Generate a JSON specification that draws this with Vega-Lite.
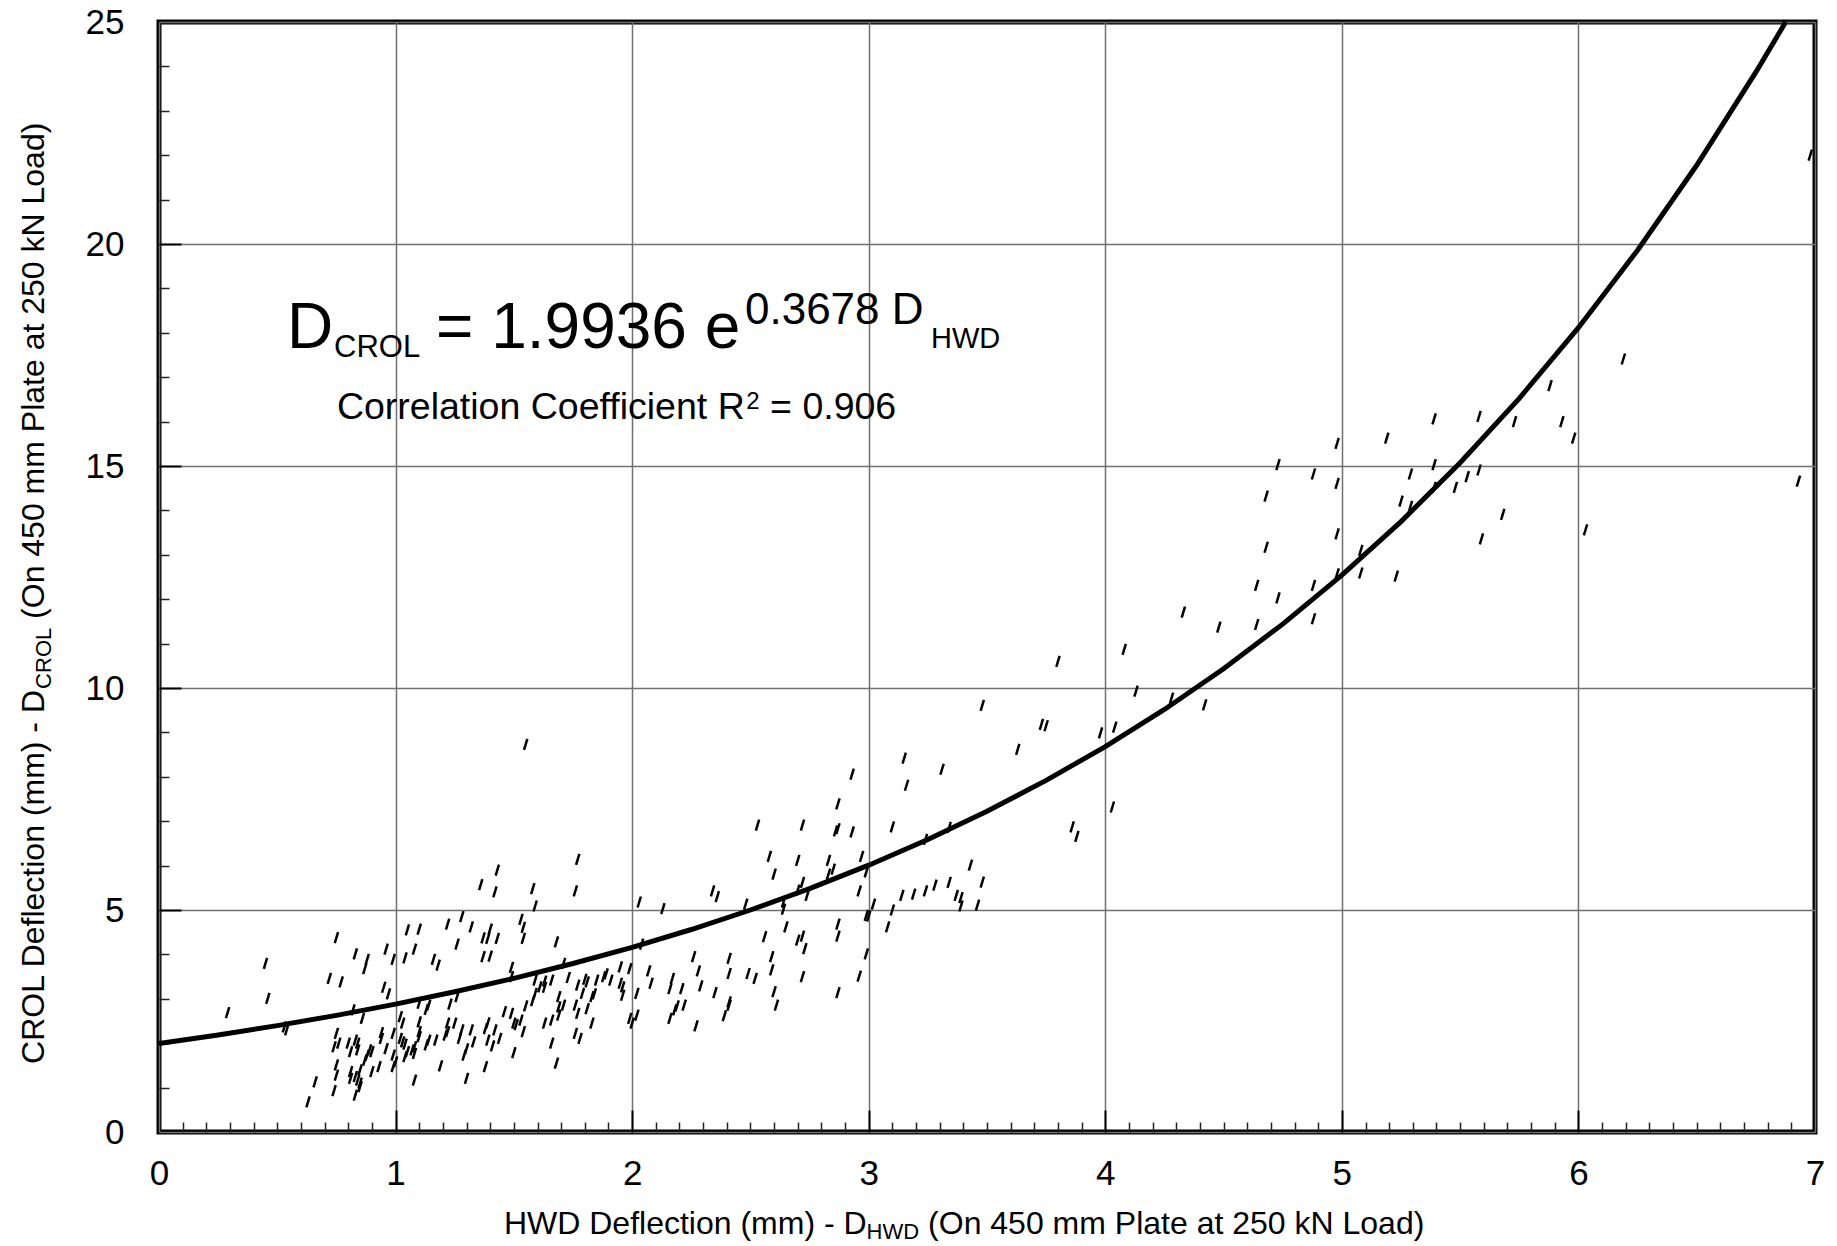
{
 "$schema": "https://vega.github.io/schema/vega-lite/v6.json",
 "width": 1656,
 "height": 1110,
 "autosize": {"type": "none"},
 "padding": {"left": 159, "top": 22, "right": 22, "bottom": 114},
 "background": "white",
 "config": {
  "view": {"stroke": "#000", "strokeWidth": 5},
  "font": "Liberation Sans",
  "text": {"font": "Liberation Sans", "color": "#000"}
 },
 "datasets": {
  "points": [
   {"x":1.77,"y":6.14},{"x":1.43,"y":5.9},{"x":1.36,"y":5.57},{"x":1.42,"y":5.41},{"x":1.58,"y":5.48},{"x":1.76,"y":5.43},{"x":1.59,"y":5.09},{"x":2.03,"y":5.18},{"x":2.13,"y":5.03},{"x":1.28,"y":4.85},
   {"x":1.22,"y":4.68},{"x":1.32,"y":4.62},{"x":1.40,"y":4.57},{"x":1.53,"y":4.79},{"x":1.54,"y":4.61},{"x":0.75,"y":4.38},{"x":1.05,"y":4.55},{"x":1.10,"y":4.57},{"x":1.26,"y":4.23},{"x":1.37,"y":4.37},
   {"x":1.39,"y":4.36},{"x":1.43,"y":4.36},{"x":1.54,"y":4.36},{"x":1.68,"y":4.28},{"x":2.04,"y":4.23},{"x":0.96,"y":4.12},{"x":1.08,"y":4.12},{"x":0.83,"y":4.01},{"x":0.88,"y":3.89},{"x":0.87,"y":3.68},
   {"x":0.99,"y":3.89},{"x":1.04,"y":3.92},{"x":1.16,"y":3.89},{"x":1.18,"y":3.76},{"x":1.37,"y":3.95},{"x":1.40,"y":3.96},{"x":0.45,"y":3.8},{"x":1.71,"y":3.8},{"x":1.95,"y":3.72},{"x":1.99,"y":3.68},
   {"x":1.49,"y":3.71},{"x":2.07,"y":3.63},{"x":0.72,"y":3.46},{"x":0.77,"y":3.38},{"x":1.49,"y":3.5},{"x":1.73,"y":3.48},{"x":1.59,"y":3.42},{"x":1.61,"y":3.27},{"x":1.63,"y":3.26},{"x":1.63,"y":3.4},
   {"x":1.66,"y":3.42},{"x":1.77,"y":3.31},{"x":1.80,"y":3.44},{"x":1.81,"y":3.38},{"x":1.85,"y":3.42},{"x":1.89,"y":3.56},{"x":1.91,"y":3.42},{"x":1.95,"y":3.35},{"x":2.08,"y":3.35},{"x":2.17,"y":3.46},
   {"x":2.16,"y":3.23},{"x":0.95,"y":3.26},{"x":0.97,"y":3.11},{"x":0.46,"y":3.01},{"x":1.69,"y":3.05},{"x":1.79,"y":3.12},{"x":1.83,"y":3.05},{"x":1.84,"y":3.11},{"x":1.96,"y":3.08},{"x":2.02,"y":3.12},
   {"x":2.19,"y":2.84},{"x":2.16,"y":2.56},{"x":1.99,"y":2.56},{"x":2.02,"y":2.63},{"x":2.0,"y":2.45},{"x":1.76,"y":2.86},{"x":1.69,"y":2.82},{"x":1.71,"y":2.86},{"x":1.69,"y":2.63},{"x":1.77,"y":2.67},
   {"x":1.81,"y":2.78},{"x":1.83,"y":2.45},{"x":1.76,"y":2.22},{"x":1.78,"y":2.11},{"x":1.66,"y":2.0},{"x":1.68,"y":1.55},{"x":1.46,"y":2.71},{"x":1.49,"y":2.67},{"x":1.50,"y":2.45},{"x":1.51,"y":2.42},
   {"x":1.53,"y":2.52},{"x":1.54,"y":2.26},{"x":1.50,"y":1.79},{"x":1.39,"y":2.46},{"x":1.38,"y":2.33},{"x":1.42,"y":2.3},{"x":1.39,"y":2.07},{"x":1.41,"y":1.94},{"x":1.44,"y":2.11},{"x":1.38,"y":1.47},
   {"x":1.32,"y":2.3},{"x":1.33,"y":2.03},{"x":1.28,"y":2.3},{"x":1.27,"y":2.11},{"x":1.30,"y":1.87},{"x":1.29,"y":1.73},{"x":1.30,"y":1.21},{"x":1.22,"y":2.45},{"x":1.22,"y":2.26},{"x":1.25,"y":2.45},
   {"x":1.21,"y":2.18},{"x":1.17,"y":2.07},{"x":1.19,"y":1.49},{"x":1.14,"y":2.07},{"x":1.13,"y":1.96},{"x":1.10,"y":2.48},{"x":1.10,"y":2.26},{"x":1.10,"y":2.15},{"x":1.08,"y":1.92},{"x":1.07,"y":1.85},
   {"x":1.08,"y":1.77},{"x":1.05,"y":1.81},{"x":1.04,"y":1.7},{"x":1.08,"y":1.17},{"x":1.02,"y":2.6},{"x":1.03,"y":2.45},{"x":1.02,"y":2.11},{"x":1.03,"y":2.03},{"x":1.04,"y":1.98},{"x":0.99,"y":2.22},
   {"x":0.99,"y":1.73},{"x":1.0,"y":1.58},{"x":0.99,"y":1.47},{"x":0.96,"y":1.88},{"x":0.94,"y":2.24},{"x":0.94,"y":2.11},{"x":0.93,"y":1.47},{"x":0.90,"y":1.36},{"x":0.89,"y":1.85},{"x":0.88,"y":1.73},
   {"x":0.87,"y":1.62},{"x":0.85,"y":1.4},{"x":0.84,"y":1.17},{"x":0.85,"y":1.1},{"x":0.85,"y":1.02},{"x":0.83,"y":0.83},{"x":0.86,"y":2.56},{"x":0.84,"y":2.0},{"x":0.84,"y":1.85},{"x":0.83,"y":2.07},
   {"x":0.83,"y":1.25},{"x":0.81,"y":1.36},{"x":0.81,"y":1.21},{"x":0.80,"y":2.0},{"x":0.81,"y":1.81},{"x":0.76,"y":2.0},{"x":0.75,"y":2.22},{"x":0.74,"y":1.92},{"x":0.75,"y":1.51},{"x":0.75,"y":1.28},
   {"x":0.74,"y":0.93},{"x":0.66,"y":1.13},{"x":0.63,"y":0.68},{"x":0.53,"y":2.37},{"x":0.54,"y":2.3},{"x":0.29,"y":2.69},{"x":0.90,"y":1.81},{"x":1.10,"y":2.9},{"x":1.14,"y":2.86},{"x":1.13,"y":2.76},
   {"x":1.23,"y":2.88},{"x":1.26,"y":3.05},{"x":0.82,"y":2.75},{"x":1.59,"y":3.12},{"x":1.58,"y":2.96},{"x":1.55,"y":2.84},{"x":1.63,"y":2.45},{"x":1.66,"y":2.52},{"x":1.88,"y":3.5},{"x":1.96,"y":3.27},
   {"x":2.18,"y":2.75},
   {"x":2.58,"y":6.21},{"x":2.70,"y":6.12},{"x":2.83,"y":6.12},{"x":2.97,"y":6.21},{"x":3.43,"y":6.01},{"x":2.60,"y":5.81},{"x":2.85,"y":5.92},{"x":2.83,"y":5.81},{"x":2.99,"y":5.86},{"x":3.48,"y":5.63},
   {"x":3.34,"y":5.62},{"x":3.28,"y":5.56},{"x":3.24,"y":5.43},{"x":3.19,"y":5.36},{"x":3.14,"y":5.33},{"x":3.37,"y":5.33},{"x":3.39,"y":5.28},{"x":3.39,"y":5.09},{"x":3.46,"y":5.11},{"x":2.72,"y":5.62},
   {"x":2.34,"y":5.43},{"x":2.36,"y":5.3},{"x":2.70,"y":5.45},{"x":2.74,"y":5.33},{"x":2.96,"y":5.43},{"x":2.48,"y":5.13},{"x":2.64,"y":5.18},{"x":2.64,"y":5.02},{"x":3.02,"y":5.13},{"x":2.99,"y":4.88},
   {"x":3.0,"y":4.86},{"x":3.10,"y":5.0},{"x":3.08,"y":4.62},{"x":2.65,"y":4.62},{"x":2.87,"y":4.68},{"x":2.87,"y":4.41},{"x":2.56,"y":4.4},{"x":2.72,"y":4.41},{"x":2.70,"y":4.32},{"x":2.73,"y":4.13},
   {"x":2.26,"y":3.95},{"x":2.41,"y":3.91},{"x":2.59,"y":3.95},{"x":2.99,"y":4.01},{"x":2.28,"y":3.63},{"x":2.41,"y":3.57},{"x":2.49,"y":3.57},{"x":2.52,"y":3.46},{"x":2.59,"y":3.65},{"x":2.72,"y":3.5},
   {"x":2.96,"y":3.51},{"x":2.21,"y":3.23},{"x":2.29,"y":3.29},{"x":2.35,"y":3.14},{"x":2.60,"y":3.16},{"x":2.87,"y":3.14},{"x":2.22,"y":2.86},{"x":2.41,"y":2.93},{"x":2.41,"y":2.86},{"x":2.61,"y":2.86},
   {"x":2.39,"y":2.62},{"x":2.27,"y":2.39},
   {"x":4.08,"y":10.87},{"x":3.80,"y":10.6},{"x":4.13,"y":9.93},{"x":3.48,"y":9.61},{"x":3.73,"y":9.18},{"x":3.75,"y":9.15},{"x":3.98,"y":8.99},{"x":4.04,"y":9.12},{"x":3.63,"y":8.62},{"x":3.15,"y":8.42},
   {"x":3.31,"y":8.17},{"x":2.93,"y":8.06},{"x":3.16,"y":7.81},{"x":2.87,"y":7.39},{"x":4.03,"y":7.32},{"x":2.53,"y":6.91},{"x":2.72,"y":6.91},{"x":2.87,"y":6.83},{"x":2.86,"y":6.78},{"x":2.93,"y":6.76},
   {"x":3.10,"y":6.87},{"x":3.34,"y":6.86},{"x":3.86,"y":6.87},{"x":3.88,"y":6.66},{"x":3.24,"y":6.59},
   {"x":1.55,"y":8.73},
   {"x":5.39,"y":16.06},{"x":5.19,"y":15.63},{"x":4.98,"y":15.51},{"x":4.73,"y":15.03},{"x":4.88,"y":14.82},{"x":4.98,"y":14.61},{"x":4.68,"y":14.32},{"x":5.29,"y":14.82},{"x":5.39,"y":15.03},{"x":5.48,"y":14.52},
   {"x":5.39,"y":14.52},{"x":5.25,"y":14.21},{"x":5.29,"y":14.09},{"x":4.98,"y":13.47},{"x":4.68,"y":13.17},{"x":5.08,"y":13.1},{"x":4.98,"y":12.57},{"x":5.08,"y":12.59},{"x":5.23,"y":12.52},{"x":4.64,"y":12.31},
   {"x":4.88,"y":12.31},{"x":4.73,"y":12.03},{"x":4.33,"y":11.71},{"x":4.48,"y":11.37},{"x":4.64,"y":11.43},{"x":4.88,"y":11.56},{"x":4.28,"y":9.77},{"x":4.42,"y":9.62},
   {"x":6.98,"y":22.0},{"x":6.19,"y":17.41},{"x":5.88,"y":16.81},{"x":5.58,"y":16.12},{"x":5.73,"y":16.0},{"x":5.93,"y":16.0},{"x":5.98,"y":15.63},{"x":5.58,"y":14.91},{"x":5.53,"y":14.76},{"x":6.93,"y":14.66},
   {"x":5.68,"y":13.91},{"x":6.03,"y":13.56},{"x":5.59,"y":13.36}
  ],
  "curve": [
   {"x":0,"y":1.9936},{"x":0.25,"y":2.1856},{"x":0.5,"y":2.3961},{"x":0.75,"y":2.6268},{"x":1.0,"y":2.8798},{"x":1.25,"y":3.1572},{"x":1.5,"y":3.4612},{"x":1.75,"y":3.7945},{"x":2.0,"y":4.16},
   {"x":2.25,"y":4.5607},{"x":2.5,"y":5.0},{"x":2.75,"y":5.4815},{"x":3.0,"y":6.0094},{"x":3.25,"y":6.5882},{"x":3.5,"y":7.2227},{"x":3.75,"y":7.9184},{"x":4.0,"y":8.681},{"x":4.25,"y":9.5172},
   {"x":4.5,"y":10.4338},{"x":4.75,"y":11.4387},{"x":5.0,"y":12.5404},{"x":5.25,"y":13.7482},{"x":5.5,"y":15.0723},{"x":5.75,"y":16.524},{"x":6.0,"y":18.1155},{"x":6.25,"y":19.8602},{"x":6.5,"y":21.773},
   {"x":6.75,"y":23.8701},{"x":6.876,"y":25.0}
  ]
 },
 "resolve": {"axis": {"x": "independent", "y": "independent"}},
 "layer": [
  {
   "data": {"name": "points"},
   "mark": {"type": "point", "shape": "M-0.3,1L0.3,-1", "size": 121, "filled": false, "stroke": "#000", "strokeWidth": 2.5, "opacity": 1},
   "encoding": {
    "x": {"field": "x", "type": "quantitative", "scale": {"domain": [0, 7], "nice": false, "zero": false},
      "axis": {"orient": "bottom", "values": [0,1,2,3,4,5,6,7], "grid": true, "gridColor": "#707070", "gridWidth": 1.5, "ticks": false, "domain": false,
        "labelFontSize": 35, "labelFont": "Liberation Sans", "labelColor": "#000", "labelPadding": 24, "labelFlush": false, "labelOverlap": false, "title": null}},
    "y": {"field": "y", "type": "quantitative", "scale": {"domain": [0, 25], "nice": false, "zero": false},
      "axis": {"orient": "left", "values": [0,5,10,15,20,25], "grid": true, "gridColor": "#707070", "gridWidth": 1.5, "ticks": false, "domain": false,
        "labelFontSize": 35, "labelFont": "Liberation Sans", "labelColor": "#000", "labelPadding": 35, "labelFlush": false, "labelOverlap": false, "title": null}}
   }
  },
  {
   "data": {"name": "curve"},
   "mark": {"type": "line", "color": "#000", "strokeWidth": 5},
   "encoding": {
    "x": {"field": "x", "type": "quantitative", "scale": {"domain": [0, 7], "nice": false, "zero": false},
      "axis": {"orient": "bottom", "values": [0.1,0.2,0.3,0.4,0.5,0.6,0.7,0.8,0.9,1.1,1.2,1.3,1.4,1.5,1.6,1.7,1.8,1.9,2.1,2.2,2.3,2.4,2.5,2.6,2.7,2.8,2.9,3.1,3.2,3.3,3.4,3.5,3.6,3.7,3.8,3.9,4.1,4.2,4.3,4.4,4.5,4.6,4.7,4.8,4.9,5.1,5.2,5.3,5.4,5.5,5.6,5.7,5.8,5.9,6.1,6.2,6.3,6.4,6.5,6.6,6.7,6.8,6.9],
        "ticks": true, "tickSize": -10, "tickColor": "#222", "tickWidth": 1.5, "labels": false, "domain": false, "grid": false, "title": null}},
    "y": {"field": "y", "type": "quantitative", "scale": {"domain": [0, 25], "nice": false, "zero": false},
      "axis": {"orient": "left", "values": [1,2,3,4,6,7,8,9,11,12,13,14,16,17,18,19,21,22,23,24],
        "ticks": true, "tickSize": -10, "tickColor": "#222", "tickWidth": 1.5, "labels": false, "domain": false, "grid": false, "title": null}}
   }
  },
  {
   "data": {"values": [{}]},
   "mark": {"type": "text", "text": "D", "fontSize": 64, "align": "left", "baseline": "alphabetic"},
   "encoding": {
    "x": {"datum": 0.541, "type": "quantitative", "scale": {"domain": [0, 7], "nice": false, "zero": false},
      "axis": {"orient": "bottom", "values": [1,2,3,4,5,6], "ticks": true, "tickSize": -22, "tickColor": "#000", "tickWidth": 2, "labels": false, "domain": false, "grid": false, "title": null}},
    "y": {"datum": 17.66, "type": "quantitative", "scale": {"domain": [0, 25], "nice": false, "zero": false},
      "axis": {"orient": "left", "values": [5,10,15,20], "ticks": true, "tickSize": -22, "tickColor": "#000", "tickWidth": 2, "labels": false, "domain": false, "grid": false, "title": null}}
   }
  },
  {
   "data": {"values": [{}]},
   "mark": {"type": "text", "text": "CROL", "fontSize": 31, "align": "left", "baseline": "alphabetic"},
   "encoding": {
    "x": {"datum": 0.74, "type": "quantitative", "scale": {"domain": [0, 7], "nice": false, "zero": false}, "axis": null},
    "y": {"datum": 17.45, "type": "quantitative", "scale": {"domain": [0, 25], "nice": false, "zero": false}, "axis": null}
   }
  },
  {
   "data": {"values": [{}]},
   "mark": {"type": "text", "text": "= 1.9936 e", "fontSize": 64, "align": "left", "baseline": "alphabetic"},
   "encoding": {
    "x": {"datum": 1.171, "type": "quantitative", "scale": {"domain": [0, 7], "nice": false, "zero": false}, "axis": null},
    "y": {"datum": 17.66, "type": "quantitative", "scale": {"domain": [0, 25], "nice": false, "zero": false}, "axis": null}
   }
  },
  {
   "data": {"values": [{}]},
   "mark": {"type": "text", "text": "0.3678 D", "fontSize": 44, "align": "left", "baseline": "alphabetic"},
   "encoding": {
    "x": {"datum": 2.477, "type": "quantitative", "scale": {"domain": [0, 7], "nice": false, "zero": false}, "axis": null},
    "y": {"datum": 18.2, "type": "quantitative", "scale": {"domain": [0, 25], "nice": false, "zero": false}, "axis": null}
   }
  },
  {
   "data": {"values": [{}]},
   "mark": {"type": "text", "text": "HWD", "fontSize": 29, "align": "left", "baseline": "alphabetic"},
   "encoding": {
    "x": {"datum": 3.263, "type": "quantitative", "scale": {"domain": [0, 7], "nice": false, "zero": false}, "axis": null},
    "y": {"datum": 17.66, "type": "quantitative", "scale": {"domain": [0, 25], "nice": false, "zero": false}, "axis": null}
   }
  },
  {
   "data": {"values": [{}]},
   "mark": {"type": "text", "text": "Correlation Coefficient R", "fontSize": 37.5, "align": "left", "baseline": "alphabetic"},
   "encoding": {
    "x": {"datum": 0.752, "type": "quantitative", "scale": {"domain": [0, 7], "nice": false, "zero": false}, "axis": null},
    "y": {"datum": 16.05, "type": "quantitative", "scale": {"domain": [0, 25], "nice": false, "zero": false}, "axis": null}
   }
  },
  {
   "data": {"values": [{}]},
   "mark": {"type": "text", "text": "2", "fontSize": 24, "align": "left", "baseline": "alphabetic"},
   "encoding": {
    "x": {"datum": 2.482, "type": "quantitative", "scale": {"domain": [0, 7], "nice": false, "zero": false}, "axis": null},
    "y": {"datum": 16.28, "type": "quantitative", "scale": {"domain": [0, 25], "nice": false, "zero": false}, "axis": null}
   }
  },
  {
   "data": {"values": [{}]},
   "mark": {"type": "text", "text": "= 0.906", "fontSize": 37.5, "align": "left", "baseline": "alphabetic"},
   "encoding": {
    "x": {"datum": 2.583, "type": "quantitative", "scale": {"domain": [0, 7], "nice": false, "zero": false}, "axis": null},
    "y": {"datum": 16.05, "type": "quantitative", "scale": {"domain": [0, 25], "nice": false, "zero": false}, "axis": null}
   }
  },
  {
   "data": {"values": [{}]},
   "mark": {"type": "text", "text": "HWD Deflection (mm) - D", "fontSize": 32, "align": "left", "baseline": "alphabetic"},
   "encoding": {
    "x": {"datum": 1.458, "type": "quantitative", "scale": {"domain": [0, 7], "nice": false, "zero": false}, "axis": null},
    "y": {"datum": -2.3, "type": "quantitative", "scale": {"domain": [0, 25], "nice": false, "zero": false}, "axis": null}
   }
  },
  {
   "data": {"values": [{}]},
   "mark": {"type": "text", "text": "HWD", "fontSize": 22, "align": "left", "baseline": "alphabetic"},
   "encoding": {
    "x": {"datum": 2.991, "type": "quantitative", "scale": {"domain": [0, 7], "nice": false, "zero": false}, "axis": null},
    "y": {"datum": -2.42, "type": "quantitative", "scale": {"domain": [0, 25], "nice": false, "zero": false}, "axis": null}
   }
  },
  {
   "data": {"values": [{}]},
   "mark": {"type": "text", "text": "(On 450 mm Plate at 250 kN Load)", "fontSize": 32, "align": "left", "baseline": "alphabetic"},
   "encoding": {
    "x": {"datum": 3.251, "type": "quantitative", "scale": {"domain": [0, 7], "nice": false, "zero": false}, "axis": null},
    "y": {"datum": -2.3, "type": "quantitative", "scale": {"domain": [0, 25], "nice": false, "zero": false}, "axis": null}
   }
  },
  {
   "data": {"values": [{}]},
   "mark": {"type": "text", "text": "CROL Deflection (mm) - D", "fontSize": 32, "align": "left", "baseline": "alphabetic", "angle": 270},
   "encoding": {
    "x": {"datum": -0.486, "type": "quantitative", "scale": {"domain": [0, 7], "nice": false, "zero": false}, "axis": null},
    "y": {"datum": 1.532, "type": "quantitative", "scale": {"domain": [0, 25], "nice": false, "zero": false}, "axis": null}
   }
  },
  {
   "data": {"values": [{}]},
   "mark": {"type": "text", "text": "CROL", "fontSize": 22, "align": "left", "baseline": "alphabetic", "angle": 270},
   "encoding": {
    "x": {"datum": -0.4565, "type": "quantitative", "scale": {"domain": [0, 7], "nice": false, "zero": false}, "axis": null},
    "y": {"datum": 9.98, "type": "quantitative", "scale": {"domain": [0, 25], "nice": false, "zero": false}, "axis": null}
   }
  },
  {
   "data": {"values": [{}]},
   "mark": {"type": "text", "text": "(On 450 mm Plate at 250 kN Load)", "fontSize": 32, "align": "left", "baseline": "alphabetic", "angle": 270},
   "encoding": {
    "x": {"datum": -0.486, "type": "quantitative", "scale": {"domain": [0, 7], "nice": false, "zero": false}, "axis": null},
    "y": {"datum": 11.556, "type": "quantitative", "scale": {"domain": [0, 25], "nice": false, "zero": false}, "axis": null}
   }
  }
 ]
}
